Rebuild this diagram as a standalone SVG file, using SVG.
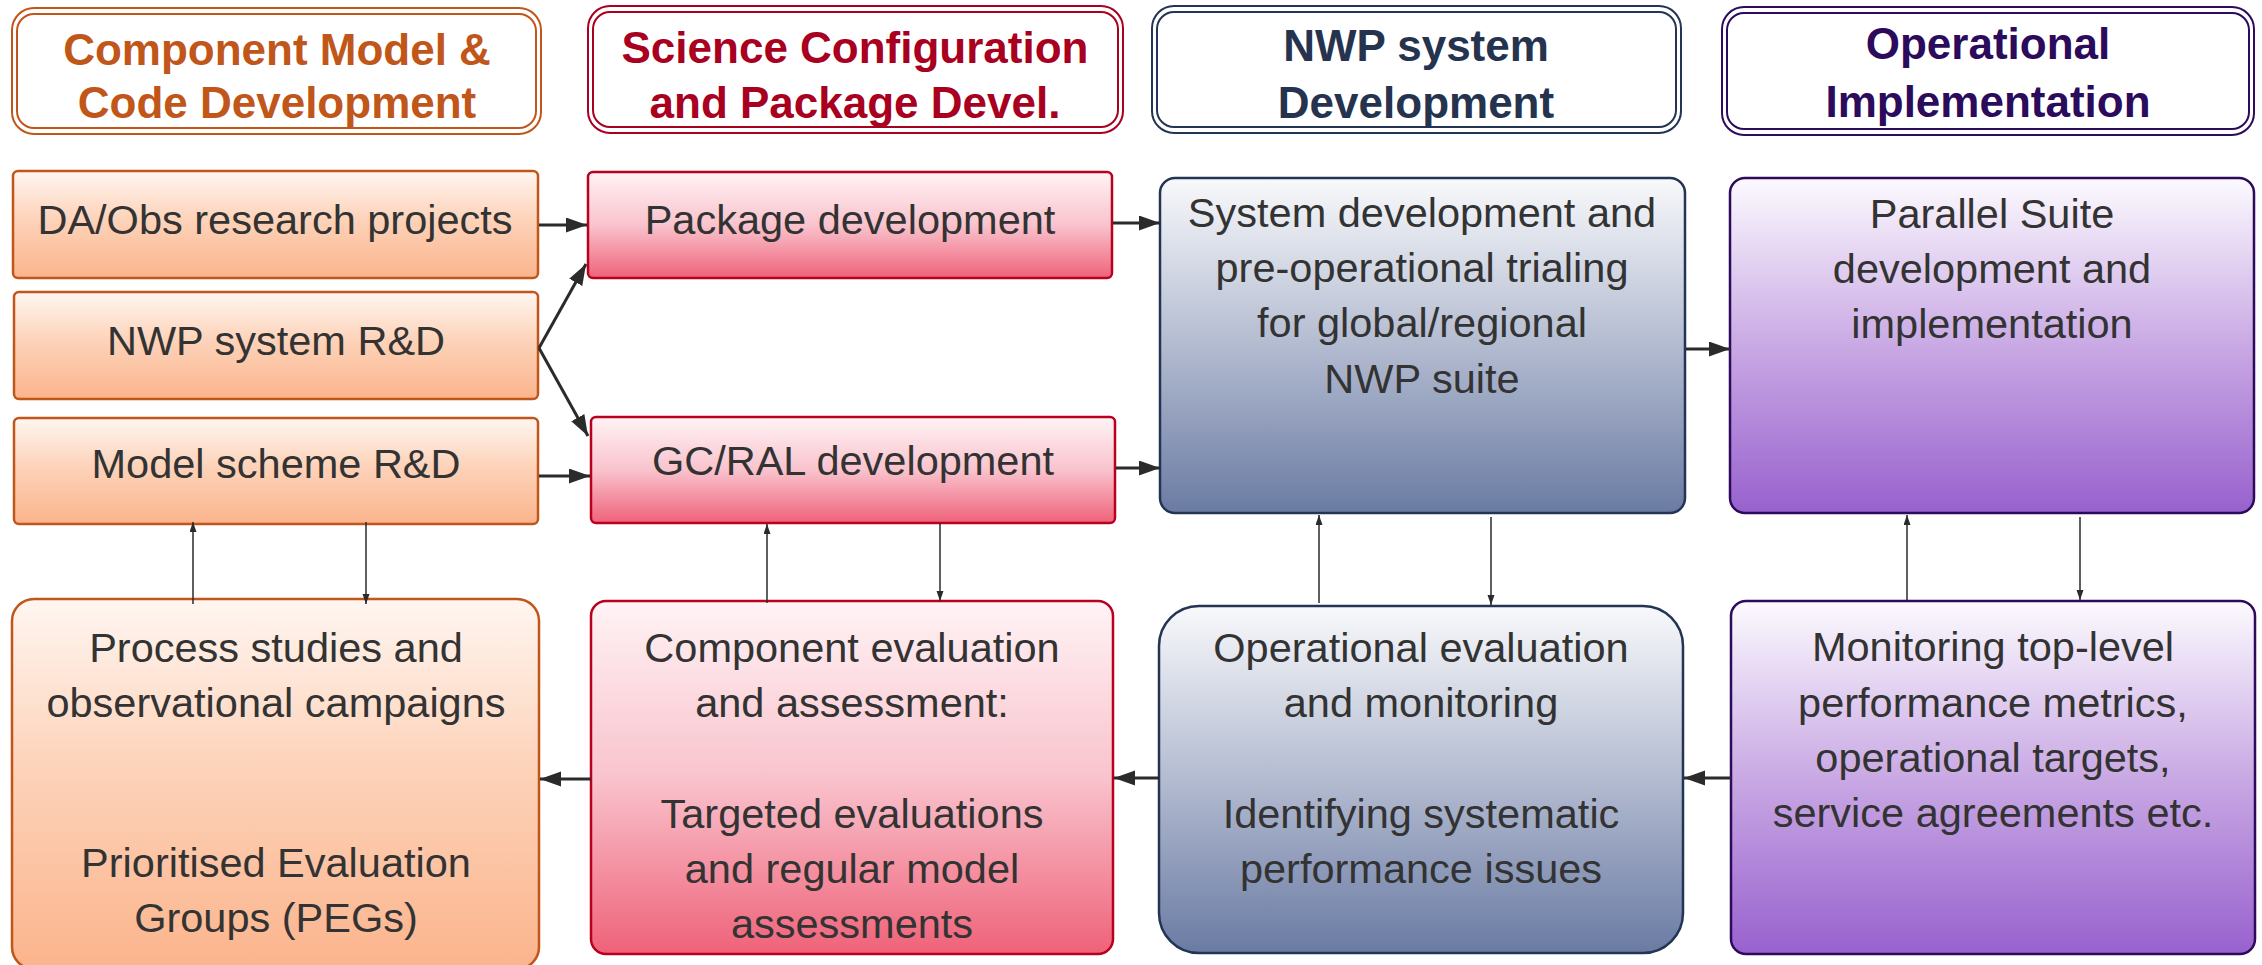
<svg xmlns="http://www.w3.org/2000/svg" width="2262" height="965" viewBox="0 0 2262 965">
<defs>
<linearGradient id="gOr" x1="0" y1="0" x2="0" y2="1"><stop offset="0" stop-color="#FFF6F1"/><stop offset="0.45" stop-color="#FDD3BA"/><stop offset="1" stop-color="#FBB48C"/></linearGradient>
<linearGradient id="gRd" x1="0" y1="0" x2="0" y2="1"><stop offset="0" stop-color="#FFF3F5"/><stop offset="0.5" stop-color="#F9C3CD"/><stop offset="1" stop-color="#EF6279"/></linearGradient>
<linearGradient id="gBl" x1="0" y1="0" x2="0" y2="1"><stop offset="0" stop-color="#F8F9FB"/><stop offset="0.5" stop-color="#B3BBD0"/><stop offset="1" stop-color="#6A7BA3"/></linearGradient>
<linearGradient id="gPu" x1="0" y1="0" x2="0" y2="1"><stop offset="0" stop-color="#FCFAFE"/><stop offset="0.5" stop-color="#C9A9E4"/><stop offset="1" stop-color="#9861CE"/></linearGradient>
<marker id="ah" markerUnits="userSpaceOnUse" markerWidth="22" markerHeight="16" refX="21" refY="7.5" orient="auto"><path d="M0,0 L21,7.5 L0,15 z" fill="#2B2B2B"/></marker>
<marker id="as" markerUnits="userSpaceOnUse" markerWidth="11" markerHeight="8" refX="10" refY="3.5" orient="auto"><path d="M0,0 L10,3.5 L0,7 z" fill="#2B2B2B"/></marker>
</defs>
<style>
.t{font-family:"Liberation Sans",Arial,sans-serif;font-size:41.5px;fill:#333333;text-anchor:middle}
.h{font-family:"Liberation Sans",Arial,sans-serif;font-size:44px;font-weight:bold;text-anchor:middle}
.hb{fill:#FFFFFF;stroke-width:2}
.or{stroke:#C0561A;stroke-width:2.5}
.rd{stroke:#B8001F;stroke-width:2.5}
.bl{stroke:#243454;stroke-width:2.5}
.pu{stroke:#2C0A5C;stroke-width:2.5}
.ct{stroke:#2B2B2B;stroke-width:3;fill:none;marker-end:url(#ah)}
.cs{stroke:#2B2B2B;stroke-width:1.5;fill:none;marker-end:url(#as)}
</style>
<rect width="2262" height="965" fill="#FFFFFF"/>

<g id="hdr1">
<rect class="hb" x="12" y="8" width="529" height="126" rx="22" stroke="#C0561A"/>
<rect class="hb" x="17" y="14" width="519" height="114" rx="17" stroke="#C0561A"/>
<text class="h" x="277" y="65" fill="#C0561A">Component Model &amp;</text>
<text class="h" x="277" y="118" fill="#C0561A">Code Development</text>
</g>
<g id="hdr2">
<rect class="hb" x="588" y="6" width="535" height="127" rx="22" stroke="#A8001E"/>
<rect class="hb" x="593" y="12" width="525" height="115" rx="17" stroke="#A8001E"/>
<text class="h" x="855" y="63" fill="#A8001E">Science Configuration</text>
<text class="h" x="855" y="118" fill="#A8001E">and Package Devel.</text>
</g>
<g id="hdr3">
<rect class="hb" x="1152" y="6" width="529" height="127" rx="22" stroke="#243454"/>
<rect class="hb" x="1157" y="12" width="519" height="115" rx="17" stroke="#243454"/>
<text class="h" x="1416" y="61" fill="#26334F">NWP system</text>
<text class="h" x="1416" y="118" fill="#26334F">Development</text>
</g>
<g id="hdr4">
<rect class="hb" x="1722" y="7" width="532" height="128" rx="22" stroke="#2C0A5C"/>
<rect class="hb" x="1727" y="13" width="522" height="116" rx="17" stroke="#2C0A5C"/>
<text class="h" x="1988" y="59" fill="#2C0A5C">Operational</text>
<text class="h" x="1988" y="117" fill="#2C0A5C">Implementation</text>
</g>

<g id="daobs">
<rect class="or" x="13" y="171" width="525" height="107" rx="5" fill="url(#gOr)"/>
<text class="t" x="275" y="234">DA/Obs research projects</text>
</g>
<g id="nwprd">
<rect class="or" x="14" y="292" width="524" height="107" rx="5" fill="url(#gOr)"/>
<text class="t" x="276" y="355">NWP system R&amp;D</text>
</g>
<g id="modelrd">
<rect class="or" x="14" y="418" width="524" height="106" rx="5" fill="url(#gOr)"/>
<text class="t" x="276" y="478">Model scheme R&amp;D</text>
</g>
<g id="process">
<rect class="or" x="12" y="599" width="527" height="370" rx="22" fill="url(#gOr)"/>
<text class="t" x="276" y="662">Process studies and</text>
<text class="t" x="276" y="717">observational campaigns</text>
<text class="t" x="276" y="877">Prioritised Evaluation</text>
<text class="t" x="276" y="932">Groups (PEGs)</text>
</g>

<g id="package">
<rect class="rd" x="588" y="172" width="524" height="106" rx="5" fill="url(#gRd)"/>
<text class="t" x="850" y="234">Package development</text>
</g>
<g id="gcral">
<rect class="rd" x="591" y="417" width="524" height="106" rx="5" fill="url(#gRd)"/>
<text class="t" x="853" y="475">GC/RAL development</text>
</g>
<g id="compeval">
<rect class="rd" x="591" y="601" width="522" height="353" rx="15" fill="url(#gRd)"/>
<text class="t" x="852" y="662">Component evaluation</text>
<text class="t" x="852" y="717">and assessment:</text>
<text class="t" x="852" y="828">Targeted evaluations</text>
<text class="t" x="852" y="883">and regular model</text>
<text class="t" x="852" y="938">assessments</text>
</g>

<g id="sysdev">
<rect class="bl" x="1160" y="178" width="525" height="335" rx="15" fill="url(#gBl)"/>
<text class="t" x="1422" y="227">System development and</text>
<text class="t" x="1422" y="282">pre-operational trialing</text>
<text class="t" x="1422" y="337">for global/regional</text>
<text class="t" x="1422" y="393">NWP suite</text>
</g>
<g id="opeval">
<rect class="bl" x="1159" y="606" width="524" height="347" rx="40" fill="url(#gBl)"/>
<text class="t" x="1421" y="662">Operational evaluation</text>
<text class="t" x="1421" y="717">and monitoring</text>
<text class="t" x="1421" y="828">Identifying systematic</text>
<text class="t" x="1421" y="883">performance issues</text>
</g>

<g id="parallel">
<rect class="pu" x="1730" y="178" width="524" height="335" rx="15" fill="url(#gPu)"/>
<text class="t" x="1992" y="228">Parallel Suite</text>
<text class="t" x="1992" y="283">development and</text>
<text class="t" x="1992" y="338">implementation</text>
</g>
<g id="monitoring">
<rect class="pu" x="1731" y="601" width="524" height="353" rx="15" fill="url(#gPu)"/>
<text class="t" x="1993" y="661">Monitoring top-level</text>
<text class="t" x="1993" y="717">performance metrics,</text>
<text class="t" x="1993" y="772">operational targets,</text>
<text class="t" x="1993" y="827">service agreements etc.</text>
</g>

<g id="connectors">
<line class="ct" x1="539" y1="225" x2="587" y2="225"/>
<line class="ct" x1="539" y1="348" x2="586" y2="264"/>
<line class="ct" x1="539" y1="348" x2="588" y2="436"/>
<line class="ct" x1="539" y1="476" x2="590" y2="476"/>
<line class="ct" x1="1113" y1="223" x2="1160" y2="223"/>
<line class="ct" x1="1116" y1="468" x2="1160" y2="468"/>
<line class="ct" x1="1686" y1="349" x2="1730" y2="349"/>
<line class="ct" x1="1731" y1="778" x2="1684" y2="778"/>
<line class="ct" x1="1159" y1="778" x2="1114" y2="778"/>
<line class="ct" x1="591" y1="779" x2="540" y2="779"/>
<line class="cs" x1="193" y1="604" x2="193" y2="522"/>
<line class="cs" x1="366" y1="522" x2="366" y2="604"/>
<line class="cs" x1="767" y1="603" x2="767" y2="524"/>
<line class="cs" x1="940" y1="523" x2="940" y2="601"/>
<line class="cs" x1="1319" y1="603" x2="1319" y2="515"/>
<line class="cs" x1="1491" y1="517" x2="1491" y2="605"/>
<line class="cs" x1="1907" y1="600" x2="1907" y2="515"/>
<line class="cs" x1="2080" y1="517" x2="2080" y2="600"/>
</g>
</svg>
